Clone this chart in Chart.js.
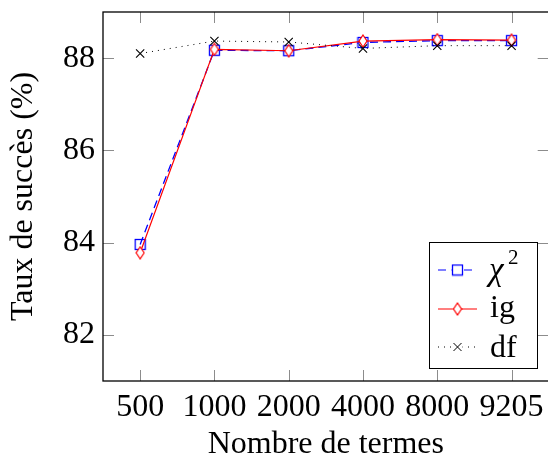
<!DOCTYPE html>
<html>
<head>
<meta charset="utf-8">
<script src="https://cdn.jsdelivr.net/npm/chart.js@4.4.1/dist/chart.umd.min.js"></script>
<style>
  html, body { margin: 0; padding: 0; background: #fff; overflow: hidden; }
  #wrap { width: 548px; height: 466px; overflow: hidden; position: relative; }
  #chart { display: block; position: absolute; left: 0; top: 0; }
</style>
</head>
<body>
<div id="wrap"><canvas id="chart" width="556" height="466"></canvas></div>
<script>
// Data
const termCounts = ['500', '1000', '2000', '4000', '8000', '9205'];
const chi2Values = [83.96, 88.17, 88.16, 88.34, 88.38, 88.38];
const igValues   = [83.78, 88.19, 88.16, 88.37, 88.40, 88.39];
const dfValues   = [88.10, 88.37, 88.35, 88.21, 88.27, 88.27];
const yTicks = [82, 84, 86, 88];

const FONT = '"Liberation Serif", "Times New Roman", serif';
const FSIZE = 32;

// marker images (pgfplots style: open square, tall diamond)
function squareMarker() {
    const c = document.createElement('canvas');
    c.width = 13; c.height = 13;
    const g = c.getContext('2d');
    g.strokeStyle = '#0000ff';
    g.lineWidth = 1.3;
    g.strokeRect(1.5, 1.5, 10, 10);
    return c;
}

function diamondMarker() {
    const c = document.createElement('canvas');
    c.width = 10; c.height = 14;
    const g = c.getContext('2d');
    g.strokeStyle = '#ff0000';
    g.lineWidth = 1.2;
    g.fillStyle = '#ffffff';
    g.beginPath();
    g.moveTo(5, 1);
    g.lineTo(9, 7);
    g.lineTo(5, 13);
    g.lineTo(1, 7);
    g.closePath();
    g.fill();
    g.stroke();
    return c;
}

const sqImg = squareMarker();
const dmImg = diamondMarker();

// inner ticks, frame and legend box
const framePlugin = {
    id: 'frame',
    afterDraw(chart) {
        const ctx = chart.ctx;
        const a = chart.chartArea;
        const xs = chart.scales.x;
        const ys = chart.scales.y;
        ctx.save();
        ctx.strokeStyle = '#8c8c8c';
        ctx.lineWidth = 1;
        xs.ticks.forEach((t, i) => {
            const px = Math.round(xs.getPixelForTick(i)) + 0.5;
            ctx.beginPath();
            ctx.moveTo(px, a.bottom);
            ctx.lineTo(px, a.bottom - 11);
            ctx.moveTo(px, a.top);
            ctx.lineTo(px, a.top + 11);
            ctx.stroke();
        });
        ys.ticks.forEach((t, i) => {
            const py = Math.round(ys.getPixelForTick(i)) + 0.5;
            ctx.beginPath();
            ctx.moveTo(a.left, py);
            ctx.lineTo(a.left + 11, py);
            ctx.moveTo(a.right, py);
            ctx.lineTo(a.right - 11, py);
            ctx.stroke();
        });
        ctx.strokeStyle = '#000';
        ctx.lineWidth = 1.3;
        ctx.strokeRect(a.left, a.top, a.right - a.left, a.bottom - a.top);

        // legend
        const lx = 429.5, ly = 242.5, lw = 108, lh = 126;
        ctx.fillStyle = '#fff';
        ctx.fillRect(lx, ly, lw, lh);
        ctx.strokeStyle = '#000';
        ctx.lineWidth = 1;
        ctx.strokeRect(lx, ly, lw, lh);

        const x0 = 438, x1 = 477, xm = 457.5;
        const rows = [270, 309, 347];

        // chi2
        ctx.strokeStyle = '#0000ff';
        ctx.lineWidth = 1.2;
        ctx.setLineDash([8, 5]);
        ctx.beginPath();
        ctx.moveTo(x0, rows[0]); ctx.lineTo(x1, rows[0]);
        ctx.stroke();
        ctx.setLineDash([]);
        ctx.fillStyle = '#fff';
        ctx.fillRect(xm - 6, rows[0] - 6, 12, 12);
        ctx.drawImage(sqImg, xm - 6.5, rows[0] - 6.5);

        // ig
        ctx.strokeStyle = '#ff0000';
        ctx.beginPath();
        ctx.moveTo(x0, rows[1]); ctx.lineTo(x1, rows[1]);
        ctx.stroke();
        ctx.drawImage(dmImg, xm - 5, rows[1] - 7);

        // df
        ctx.strokeStyle = '#000';
        ctx.setLineDash([1, 5]);
        ctx.beginPath();
        ctx.moveTo(x0, rows[2]); ctx.lineTo(x1, rows[2]);
        ctx.stroke();
        ctx.setLineDash([]);
        ctx.fillStyle = '#fff';
        ctx.fillRect(xm - 5, rows[2] - 5, 10, 10);
        ctx.lineWidth = 1;
        ctx.beginPath();
        ctx.moveTo(xm - 4, rows[2] - 4); ctx.lineTo(xm + 4, rows[2] + 4);
        ctx.moveTo(xm + 4, rows[2] - 4); ctx.lineTo(xm - 4, rows[2] + 4);
        ctx.stroke();

        // legend text
        ctx.fillStyle = '#000';
        ctx.textBaseline = 'alphabetic';
        ctx.textAlign = 'left';
        ctx.font = 'italic 33px ' + FONT;
        ctx.fillText('\u03C7', 489, rows[0] + 10);
        ctx.font = '21px ' + FONT;
        ctx.fillText('2', 508, rows[0] - 6);
        ctx.font = FSIZE + 'px ' + FONT;
        ctx.fillText('ig', 490, rows[1] + 8);
        ctx.fillText('df', 490, rows[2] + 10);
        ctx.restore();
    }
};

new Chart(document.getElementById('chart'), {
    type: 'line',
    data: {
        labels: termCounts,
        datasets: [
            {
                label: '\u03C7\u00B2',
                data: chi2Values,
                borderColor: '#0000ff',
                borderWidth: 1.3,
                borderDash: [8, 5],
                pointStyle: sqImg,
                order: 3
            },
            {
                label: 'ig',
                data: igValues,
                borderColor: '#ff0000',
                borderWidth: 1.2,
                pointStyle: dmImg,
                order: 2
            },
            {
                label: 'df',
                data: dfValues,
                borderColor: '#000000',
                borderWidth: 1,
                borderDash: [1, 5],
                pointStyle: 'crossRot',
                pointRadius: 5.8,
                pointBorderWidth: 1.1,
                pointBorderColor: '#000',
                order: 1
            }
        ]
    },
    options: {
        responsive: false,
        animation: false,
        layout: { padding: { top: 12, right: 0, left: 0, bottom: 0 } },
        elements: { line: { tension: 0 }, point: { radius: 6 } },
        plugins: {
            legend: { display: false },
            tooltip: { enabled: false }
        },
        scales: {
            x: {
                offset: true,
                grid: { display: false, drawTicks: false },
                border: { display: false },
                ticks: {
                    color: '#000',
                    padding: 7,
                    maxRotation: 0,
                    autoSkip: false,
                    font: { family: FONT, size: FSIZE }
                },
                title: {
                    display: true,
                    text: 'Nombre de termes',
                    color: '#000',
                    padding: { top: 4, bottom: 2 },
                    font: { family: FONT, size: FSIZE }
                },
                afterFit(s) {
                    s.height = 85;
                    s.paddingLeft = 0;
                    s.paddingRight = 0;
                }
            },
            y: {
                min: 81,
                max: 89,
                afterBuildTicks(s) { s.ticks = yTicks.map(v => ({ value: v })); },
                grid: { display: false, drawTicks: false },
                border: { display: false },
                ticks: {
                    color: '#000',
                    padding: 8,
                    font: { family: FONT, size: FSIZE }
                },
                title: {
                    display: true,
                    text: 'Taux de succès (%)',
                    color: '#000',
                    padding: { top: 4, bottom: 4 },
                    font: { family: FONT, size: FSIZE }
                },
                afterFit(s) {
                    s.width = 103;
                    s.paddingTop = 0;
                    s.paddingBottom = 0;
                }
            }
        }
    },
    plugins: [framePlugin]
});
</script>
</body>
</html>
